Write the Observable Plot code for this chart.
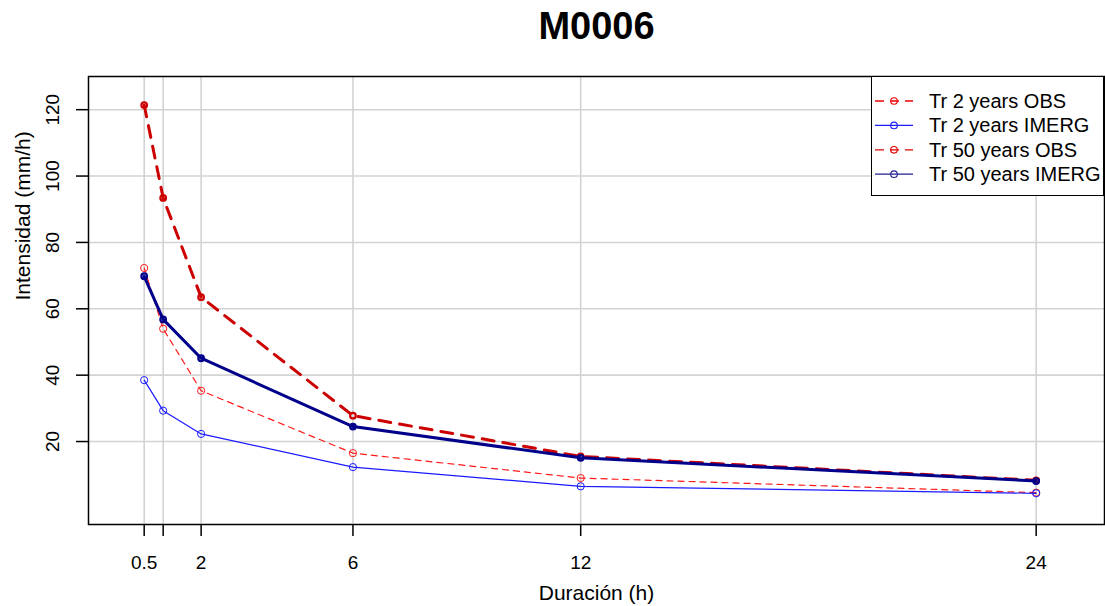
<!DOCTYPE html>
<html>
<head>
<meta charset="utf-8">
<script src="https://cdn.jsdelivr.net/npm/d3@7"></script>
<script src="https://cdn.jsdelivr.net/npm/@observablehq/plot@0.6"></script>
<style>
  html, body { margin: 0; padding: 0; background: #fff; }
  #fig { position: relative; width: 1105px; height: 606px; font-family: "Liberation Sans", Arial, sans-serif; }
  #legend { position: absolute; left: 871px; top: 76px; width: 231px; height: 118px;
            border: 1.5px solid #000; background: #fff; }
</style>
</head>
<body>
<div id="fig"></div>
<script>
// IDF curves for station M0006: intensity (mm/h) against duration (h)
const durations = [0.5, 1, 2, 6, 12, 24];
const xTickLabels = ["0.5", "", "2", "6", "12", "24"];
const yTicks = [20, 40, 60, 80, 100, 120];

const obs2   = [72.3, 54.0, 35.3, 16.5, 9.0, 4.6];
const imerg2 = [38.5, 29.3, 22.3, 12.3, 6.5, 4.4];
const obs50  = [121.4, 93.4, 63.5, 27.8, 15.5, 8.3];
const imerg50 = [69.8, 56.8, 45.1, 24.5, 15.1, 8.1];

const seriesNames = ["Tr 2 years OBS", "Tr 2 years IMERG", "Tr 50 years OBS", "Tr 50 years IMERG"];
const seriesValues = [obs2, imerg2, obs50, imerg50];

// drawing style of each series
const styles = {
  "Tr 2 years OBS":    {color: "#ff1a1a", width: 1.2, dash: "6,5",  legendColor: "#f00000", r: 3.6, dotWidth: 1},
  "Tr 2 years IMERG":  {color: "#1a1aff", width: 1.2, dash: null,   legendColor: "#1a1aff", r: 3.6, dotWidth: 1},
  "Tr 50 years OBS":   {color: "#cc0000", width: 3,   dash: "12,9", legendColor: "#e00000", r: 2.8, dotWidth: 2.2},
  "Tr 50 years IMERG": {color: "#00008b", width: 3,   dash: null,   legendColor: "#20208f", r: 2.8, dotWidth: 2.2}
};

const rows = seriesNames.flatMap((name, s) =>
  durations.map((d, i) => ({series: name, duration: d, intensity: seriesValues[s][i]})));

const xDomain = [-0.967, 25.8];
const yDomain = [-5, 130];

const seriesMarks = seriesNames.flatMap(name => {
  const st = styles[name];
  const data = rows.filter(r => r.series === name);
  return [
    Plot.line(data, {x: "duration", y: "intensity", stroke: st.color, strokeWidth: st.width,
                     strokeDasharray: st.dash, strokeLinejoin: "round"}),
    Plot.dot(data, {x: "duration", y: "intensity", r: st.r, stroke: st.color,
                    strokeWidth: st.dotWidth, fill: "none"})
  ];
});

const chart = Plot.plot({
  width: 1105,
  height: 606,
  marginLeft: 88,
  marginRight: 1,
  marginTop: 76,
  marginBottom: 82,
  x: {domain: xDomain},
  y: {domain: yDomain},
  style: {fontFamily: "'Liberation Sans', Arial, sans-serif", fontSize: "19px", background: "#fff", color: "#000"},
  marks: [
    Plot.ruleX(durations, {stroke: "#d3d3d3", strokeWidth: 1.6}),
    Plot.ruleY(yTicks, {stroke: "#d3d3d3", strokeWidth: 1.6}),
    ...seriesMarks,
    Plot.frame({stroke: "#000", strokeWidth: 1.5}),
    Plot.axisX({ticks: durations, tickSize: 12, tickPadding: 19, strokeWidth: 1.5,
                tickFormat: d => xTickLabels[durations.indexOf(d)], label: null}),
    Plot.axisY({ticks: yTicks, tickSize: 12, strokeWidth: 1.5, tickFormat: () => "", label: null}),
    Plot.text(yTicks, {x: () => xDomain[0], y: d => d, text: d => String(d), rotate: -90, dx: -36, fontSize: 19}),
    Plot.text(["Intensidad (mm/h)"], {frameAnchor: "left", lineAnchor: "middle", dx: -65, rotate: -90, fontSize: 21}),
    Plot.text(["Duración (h)"], {frameAnchor: "bottom", lineAnchor: "middle", dy: 69, fontSize: 21}),
    Plot.text(["M0006"], {frameAnchor: "top", lineAnchor: "middle", dy: -49.5, fontSize: 38, fontWeight: "bold"})
  ]
});

const fig = document.getElementById("fig");
fig.appendChild(chart);

// legend box in the top-right corner of the plot area
const legend = document.createElement("div");
legend.id = "legend";
fig.appendChild(legend);
const lsvg = d3.select(legend).append("svg").attr("width", 231).attr("height", 118)
  .style("display", "block");
seriesNames.forEach((name, i) => {
  const st = styles[name];
  const cy = 24 + i * 24.4;
  const g = lsvg.append("g");
  g.append("line").attr("x1", 3).attr("x2", 41).attr("y1", cy).attr("y2", cy)
    .attr("stroke", st.legendColor).attr("stroke-width", 1.3)
    .attr("stroke-dasharray", st.dash ? "9,6" : null);
  g.append("circle").attr("cx", 22).attr("cy", cy).attr("r", 3.3)
    .attr("fill", "none").attr("stroke", st.legendColor).attr("stroke-width", 1.1);
  g.append("text").attr("x", 57).attr("y", cy).attr("dy", "0.35em")
    .attr("font-family", "'Liberation Sans', Arial, sans-serif").attr("font-size", 20)
    .attr("fill", "#000").text(name);
});
</script>
</body>
</html>
